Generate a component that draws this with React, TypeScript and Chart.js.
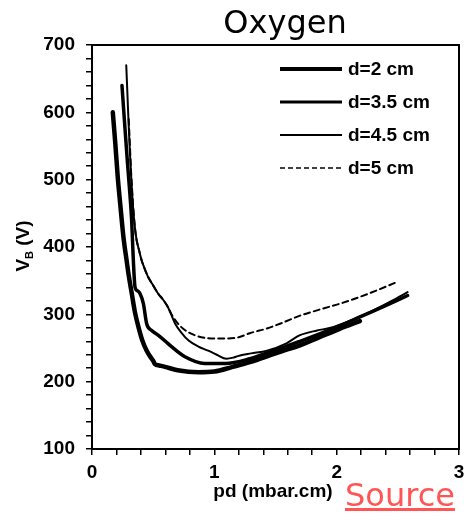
import React, { useEffect, useRef } from 'react';
import { Chart, registerables } from 'chart.js';

Chart.register(...registerables);

// ---------- data ----------
const SERIES_NAMES = ['d=2 cm', 'd=3.5 cm', 'd=4.5 cm', 'd=5 cm'];

const D2_X = [0.17, 0.19, 0.21, 0.23, 0.243, 0.26, 0.283, 0.3, 0.325, 0.35, 0.38, 0.41, 0.447, 0.488, 0.5, 0.515, 0.55, 0.597, 0.7, 0.87, 1.0, 1.15, 1.29, 1.42, 1.55, 1.7, 1.86, 2.02, 2.19];
const D2_Y = [600, 555, 505, 465, 440, 410, 380, 358, 331, 304, 281, 262, 246, 234, 231, 226, 224, 222, 217, 214, 215, 222, 229, 237, 245, 254, 266, 278, 290];

const D35_X = [0.245, 0.27, 0.29, 0.31, 0.324, 0.331, 0.338, 0.352, 0.372, 0.392, 0.42, 0.447, 0.488, 0.54, 0.6, 0.65, 0.76, 0.92, 1.09, 1.29, 1.42, 1.55, 1.7, 1.86, 2.0, 2.2, 2.4, 2.58];
const D35_Y = [640, 575, 525, 478, 440, 410, 380, 340, 335, 331, 316, 286, 276, 269, 260, 252, 237, 227, 227, 234, 242, 250, 260, 271, 281, 297, 313, 328];

const D45_X = [0.28, 0.29, 0.3, 0.31, 0.32, 0.335, 0.35, 0.365, 0.385, 0.406, 0.43, 0.46, 0.5, 0.54, 0.58, 0.62, 0.68, 0.73, 0.79, 0.87, 0.95, 1.02, 1.1, 1.16, 1.21, 1.3, 1.43, 1.59, 1.7, 1.84, 1.95, 2.1, 2.3, 2.45, 2.58];
const D45_Y = [670, 625, 580, 540, 505, 460, 430, 410, 395, 380, 368, 355, 343, 331, 322, 311, 286, 273, 261, 252, 246, 240, 234, 236, 239, 242, 246, 257, 269, 276, 280, 290, 306, 320, 333];

const D5_X = [0.3, 0.31, 0.32, 0.335, 0.35, 0.365, 0.385, 0.406, 0.43, 0.46, 0.5, 0.54, 0.58, 0.62, 0.66, 0.73, 0.84, 1.0, 1.1, 1.2, 1.29, 1.43, 1.55, 1.7, 1.86, 2.03, 2.25, 2.48];
const D5_Y = [590, 550, 510, 465, 430, 410, 395, 380, 368, 355, 343, 331, 322, 311, 297, 281, 269, 264, 264, 266, 272, 279, 287, 298, 307, 316, 330, 347];

const X_LABELS = [0, 1, 2, 3];
const Y_LABELS = [100, 200, 300, 400, 500, 600, 700];

const TITLE = 'Oxygen';
const X_TITLE = 'pd (mbar.cm)';
const Y_TITLE_MAIN = 'V';
const Y_TITLE_SUB = 'B';
const Y_TITLE_REST = ' (V)';

const toPoints = (xs: number[], ys: number[]) => xs.map((x, i) => ({ x, y: ys[i] }));

const LINE_WIDTHS = [4.5, 3.5, 2, 2];
const LEGEND_WIDTHS = [4, 3, 2, 1.6];
const DASHES: number[][] = [[], [], [], [6, 4]];
const LEGEND_DASHES: number[][] = [[], [], [], [5, 3]];

const FONT_FAMILY = '"Liberation Sans", Arial, sans-serif';

const decorPlugin = {
  id: 'decor',
  afterDatasetsDraw(chart: any) {
    const { ctx, chartArea } = chart;
    const { left, right, top, bottom } = chartArea;
    ctx.save();
    // frame
    ctx.strokeStyle = '#000';
    ctx.lineWidth = 2;
    ctx.setLineDash([]);
    ctx.strokeRect(left, top, right - left, bottom - top);

    // legend
    const rowTop = top + 24;
    const rowGap = 33;
    const lineX0 = 280;
    const lineX1 = 342;
    const textX = 348;
    ctx.font = `bold 19px ${FONT_FAMILY}`;
    ctx.fillStyle = '#000';
    ctx.textBaseline = 'middle';
    ctx.textAlign = 'left';
    chart.data.datasets.forEach((ds: any, i: number) => {
      const y = rowTop + i * rowGap;
      ctx.beginPath();
      ctx.lineWidth = LEGEND_WIDTHS[i];
      ctx.setLineDash(LEGEND_DASHES[i]);
      ctx.lineCap = 'butt';
      ctx.moveTo(lineX0, y);
      ctx.lineTo(lineX1, y);
      ctx.stroke();
      ctx.setLineDash([]);
      ctx.fillText(ds.label, textX, y + 1);
    });

    // title
    ctx.font = '32px "DejaVu Sans", sans-serif';
    ctx.textAlign = 'center';
    ctx.textBaseline = 'alphabetic';
    ctx.fillText(TITLE, 285, 33);

    // x title
    ctx.font = `bold 19px ${FONT_FAMILY}`;
    ctx.fillText(X_TITLE, 273, 497);

    // y title (rotated, with subscript)
    const mainFont = `bold 19px ${FONT_FAMILY}`;
    const subFont = `bold 11px ${FONT_FAMILY}`;
    ctx.font = mainFont;
    const wV = ctx.measureText(Y_TITLE_MAIN).width;
    const wRest = ctx.measureText(Y_TITLE_REST).width;
    ctx.font = subFont;
    const wB = ctx.measureText(Y_TITLE_SUB).width;
    const total = wV + wB + wRest;
    ctx.translate(29, 246);
    ctx.rotate(-Math.PI / 2);
    ctx.textAlign = 'left';
    let x = -total / 2;
    ctx.font = mainFont;
    ctx.fillText(Y_TITLE_MAIN, x, 0);
    x += wV;
    ctx.font = subFont;
    ctx.fillText(Y_TITLE_SUB, x, 4);
    x += wB;
    ctx.font = mainFont;
    ctx.fillText(Y_TITLE_REST, x, 0);
    ctx.restore();
  },
};

export default function App() {
  const canvasRef = useRef<HTMLCanvasElement | null>(null);

  useEffect(() => {
    document.body.style.margin = '0';
    const canvas = canvasRef.current;
    if (!canvas) return;
    const series = [
      toPoints(D2_X, D2_Y),
      toPoints(D35_X, D35_Y),
      toPoints(D45_X, D45_Y),
      toPoints(D5_X, D5_Y),
    ];
    const tickFont = { family: FONT_FAMILY, size: 19, weight: 'bold' as const };
    const chart = new Chart(canvas, {
      type: 'scatter',
      data: {
        datasets: series.map((data, i) => ({
          label: SERIES_NAMES[i],
          data,
          showLine: true,
          borderColor: '#000',
          backgroundColor: '#000',
          borderWidth: LINE_WIDTHS[i],
          borderDash: DASHES[i],
          pointRadius: 0,
          pointHoverRadius: 0,
          cubicInterpolationMode: 'monotone' as const,
          borderCapStyle: 'round' as const,
          borderJoinStyle: 'round' as const,
        })),
      },
      options: {
        animation: false,
        responsive: false,
        layout: { padding: { left: 0, top: 45, right: 12, bottom: 0 } },
        plugins: {
          legend: { display: false },
          title: { display: false },
          tooltip: { enabled: false },
        },
        scales: {
          x: {
            type: 'linear',
            min: 0,
            max: 3,
            afterFit: (scale: any) => {
              scale.height = 70;
            },
            ticks: {
              stepSize: 0.2,
              autoSkip: false,
              maxRotation: 0,
              color: '#000',
              font: tickFont,
              padding: 6,
              callback: (v: any) => {
                const n = Number(v);
                const r = Math.round(n);
                return Math.abs(n - r) < 1e-6 && X_LABELS.includes(r) ? String(r) : '';
              },
            },
            grid: {
              display: true,
              drawOnChartArea: false,
              drawTicks: true,
              tickLength: 6,
              color: '#000',
              lineWidth: 1.5,
            },
            border: { display: true, color: '#000', width: 2 },
          },
          y: {
            type: 'linear',
            min: 100,
            max: 700,
            afterFit: (scale: any) => {
              scale.width = 92;
            },
            ticks: {
              stepSize: 20,
              autoSkip: false,
              color: '#000',
              font: tickFont,
              padding: 11,
              callback: (v: any) => {
                const n = Math.round(Number(v));
                return Y_LABELS.includes(n) ? String(n) : '';
              },
            },
            grid: {
              display: true,
              drawOnChartArea: false,
              drawTicks: true,
              tickLength: 6,
              color: '#000',
              lineWidth: 1.5,
            },
            border: { display: true, color: '#000', width: 2 },
          },
        },
      },
      plugins: [decorPlugin],
    });
    return () => chart.destroy();
  }, []);

  return (
    <div style={{ position: 'relative', width: 471, height: 519 }}>
      <canvas ref={canvasRef} width={471} height={519} style={{ display: 'block' }} />
      <span
        style={{
          position: 'absolute',
          left: 345,
          top: 477,
          fontFamily: '"DejaVu Sans", sans-serif',
          fontSize: 32,
          lineHeight: '37px',
          color: '#ff5555',
          textDecoration: 'underline',
          whiteSpace: 'nowrap',
        }}
      >
        Source
      </span>
    </div>
  );
}
